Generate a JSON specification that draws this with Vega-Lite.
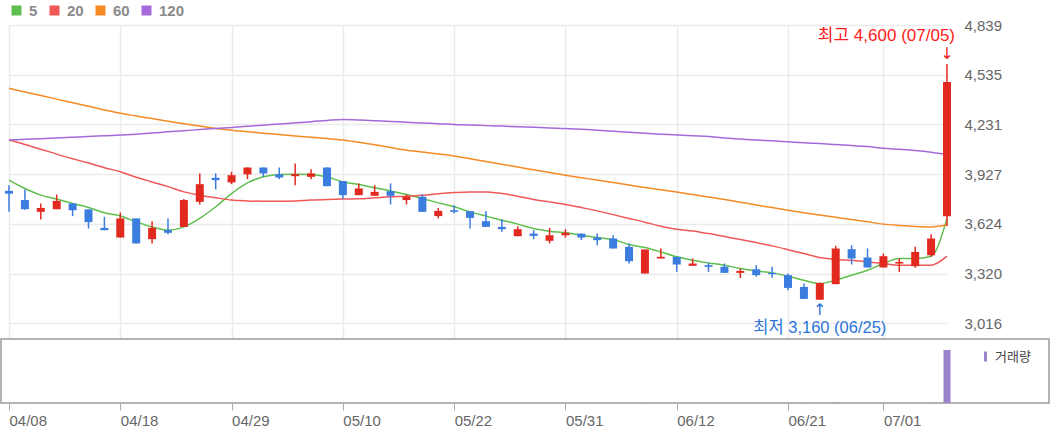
{
  "$schema": "https://vega.github.io/schema/vega-lite/v6.json",
  "background": "white",
  "padding": {"left": 0, "top": 3, "right": 0, "bottom": 0},
  "autosize": {"type": "pad"},
  "config": {
    "font": "Liberation Sans, Noto Sans CJK KR",
    "axis": {"labelFont": "Liberation Sans, Noto Sans CJK KR"},
    "legend": {"labelFont": "Liberation Sans, Noto Sans CJK KR", "padding": 0}
  },
  "datasets": {
    "k": [
      {"d": "04/08", "o": 3825, "h": 3860, "l": 3697, "c": 3808, "m5": 3891, "m20": 4136, "m60": 4452, "m120": 4136, "vol": 41000},
      {"d": "04/09", "o": 3769, "h": 3834, "l": 3710, "c": 3713, "m5": 3840, "m20": 4109, "m60": 4430, "m120": 4140, "vol": 38000},
      {"d": "04/11", "o": 3697, "h": 3748, "l": 3650, "c": 3721, "m5": 3799, "m20": 4080, "m60": 4408, "m120": 4144, "vol": 35000},
      {"d": "04/12", "o": 3713, "h": 3803, "l": 3713, "c": 3764, "m5": 3775, "m20": 4050, "m60": 4386, "m120": 4149, "vol": 40000},
      {"d": "04/15", "o": 3748, "h": 3750, "l": 3671, "c": 3707, "m5": 3748, "m20": 4022, "m60": 4364, "m120": 4153, "vol": 33000},
      {"d": "04/16", "o": 3712, "h": 3712, "l": 3595, "c": 3634, "m5": 3724, "m20": 3995, "m60": 4342, "m120": 4157, "vol": 45000},
      {"d": "04/17", "o": 3599, "h": 3667, "l": 3585, "c": 3585, "m5": 3691, "m20": 3967, "m60": 4320, "m120": 4162, "vol": 36000},
      {"d": "04/18", "o": 3540, "h": 3693, "l": 3540, "c": 3657, "m5": 3672, "m20": 3942, "m60": 4299, "m120": 4166, "vol": 52000},
      {"d": "04/19", "o": 3657, "h": 3657, "l": 3504, "c": 3504, "m5": 3636, "m20": 3909, "m60": 4283, "m120": 4172, "vol": 58000},
      {"d": "04/22", "o": 3530, "h": 3640, "l": 3504, "c": 3599, "m5": 3605, "m20": 3880, "m60": 4267, "m120": 4179, "vol": 39000},
      {"d": "04/23", "o": 3585, "h": 3657, "l": 3560, "c": 3569, "m5": 3585, "m20": 3851, "m60": 4251, "m120": 4186, "vol": 30000},
      {"d": "04/24", "o": 3605, "h": 3775, "l": 3605, "c": 3769, "m5": 3605, "m20": 3819, "m60": 4236, "m120": 4193, "vol": 74000},
      {"d": "04/25", "o": 3758, "h": 3932, "l": 3742, "c": 3866, "m5": 3657, "m20": 3799, "m60": 4221, "m120": 4200, "vol": 90000},
      {"d": "04/26", "o": 3905, "h": 3932, "l": 3834, "c": 3891, "m5": 3728, "m20": 3783, "m60": 4207, "m120": 4207, "vol": 48000},
      {"d": "04/29", "o": 3877, "h": 3942, "l": 3866, "c": 3921, "m5": 3809, "m20": 3769, "m60": 4196, "m120": 4213, "vol": 42000},
      {"d": "04/30", "o": 3926, "h": 3968, "l": 3897, "c": 3968, "m5": 3874, "m20": 3764, "m60": 4187, "m120": 4220, "vol": 47000},
      {"d": "05/02", "o": 3968, "h": 3968, "l": 3911, "c": 3932, "m5": 3911, "m20": 3762, "m60": 4178, "m120": 4227, "vol": 37000},
      {"d": "05/03", "o": 3926, "h": 3968, "l": 3897, "c": 3907, "m5": 3926, "m20": 3762, "m60": 4170, "m120": 4234, "vol": 31000},
      {"d": "05/07", "o": 3915, "h": 3993, "l": 3860, "c": 3927, "m5": 3927, "m20": 3764, "m60": 4161, "m120": 4241, "vol": 44000},
      {"d": "05/08", "o": 3911, "h": 3958, "l": 3897, "c": 3932, "m5": 3926, "m20": 3769, "m60": 4153, "m120": 4248, "vol": 29000},
      {"d": "05/09", "o": 3968, "h": 3968, "l": 3854, "c": 3854, "m5": 3911, "m20": 3772, "m60": 4145, "m120": 4256, "vol": 46000},
      {"d": "05/10", "o": 3885, "h": 3885, "l": 3775, "c": 3799, "m5": 3880, "m20": 3775, "m60": 4136, "m120": 4262, "vol": 43000},
      {"d": "05/13", "o": 3799, "h": 3871, "l": 3799, "c": 3840, "m5": 3864, "m20": 3777, "m60": 4122, "m120": 4258, "vol": 32000},
      {"d": "05/14", "o": 3795, "h": 3860, "l": 3795, "c": 3819, "m5": 3844, "m20": 3783, "m60": 4107, "m120": 4254, "vol": 28000},
      {"d": "05/16", "o": 3823, "h": 3871, "l": 3742, "c": 3795, "m5": 3825, "m20": 3789, "m60": 4090, "m120": 4249, "vol": 39000},
      {"d": "05/17", "o": 3769, "h": 3803, "l": 3742, "c": 3789, "m5": 3803, "m20": 3793, "m60": 4074, "m120": 4245, "vol": 27000},
      {"d": "05/20", "o": 3789, "h": 3803, "l": 3697, "c": 3697, "m5": 3779, "m20": 3799, "m60": 4063, "m120": 4240, "vol": 41000},
      {"d": "05/21", "o": 3671, "h": 3721, "l": 3657, "c": 3703, "m5": 3752, "m20": 3808, "m60": 4051, "m120": 4236, "vol": 30000},
      {"d": "05/22", "o": 3707, "h": 3738, "l": 3687, "c": 3697, "m5": 3728, "m20": 3815, "m60": 4039, "m120": 4231, "vol": 26000},
      {"d": "05/23", "o": 3701, "h": 3701, "l": 3595, "c": 3660, "m5": 3697, "m20": 3819, "m60": 4022, "m120": 4228, "vol": 38000},
      {"d": "05/24", "o": 3640, "h": 3701, "l": 3605, "c": 3605, "m5": 3671, "m20": 3819, "m60": 4005, "m120": 4224, "vol": 35000},
      {"d": "05/27", "o": 3605, "h": 3652, "l": 3575, "c": 3591, "m5": 3646, "m20": 3809, "m60": 3988, "m120": 4221, "vol": 29000},
      {"d": "05/28", "o": 3548, "h": 3609, "l": 3548, "c": 3591, "m5": 3622, "m20": 3793, "m60": 3971, "m120": 4217, "vol": 27000},
      {"d": "05/29", "o": 3564, "h": 3585, "l": 3530, "c": 3550, "m5": 3595, "m20": 3773, "m60": 3954, "m120": 4214, "vol": 24000},
      {"d": "05/30", "o": 3520, "h": 3599, "l": 3504, "c": 3554, "m5": 3579, "m20": 3758, "m60": 3937, "m120": 4210, "vol": 33000},
      {"d": "05/31", "o": 3554, "h": 3591, "l": 3540, "c": 3569, "m5": 3569, "m20": 3742, "m60": 3921, "m120": 4207, "vol": 22000},
      {"d": "06/03", "o": 3564, "h": 3564, "l": 3524, "c": 3540, "m5": 3554, "m20": 3723, "m60": 3906, "m120": 4202, "vol": 25000},
      {"d": "06/04", "o": 3540, "h": 3564, "l": 3493, "c": 3524, "m5": 3540, "m20": 3703, "m60": 3891, "m120": 4196, "vol": 28000},
      {"d": "06/05", "o": 3534, "h": 3554, "l": 3473, "c": 3473, "m5": 3528, "m20": 3680, "m60": 3876, "m120": 4190, "vol": 34000},
      {"d": "06/07", "o": 3483, "h": 3504, "l": 3381, "c": 3395, "m5": 3497, "m20": 3657, "m60": 3861, "m120": 4184, "vol": 47000},
      {"d": "06/10", "o": 3320, "h": 3467, "l": 3320, "c": 3467, "m5": 3479, "m20": 3634, "m60": 3846, "m120": 4178, "vol": 55000},
      {"d": "06/11", "o": 3412, "h": 3473, "l": 3412, "c": 3422, "m5": 3452, "m20": 3609, "m60": 3832, "m120": 4172, "vol": 26000},
      {"d": "06/12", "o": 3422, "h": 3422, "l": 3330, "c": 3375, "m5": 3422, "m20": 3590, "m60": 3818, "m120": 4167, "vol": 31000},
      {"d": "06/13", "o": 3367, "h": 3412, "l": 3367, "c": 3381, "m5": 3401, "m20": 3580, "m60": 3803, "m120": 4162, "vol": 23000},
      {"d": "06/14", "o": 3371, "h": 3385, "l": 3330, "c": 3361, "m5": 3385, "m20": 3564, "m60": 3788, "m120": 4158, "vol": 21000},
      {"d": "06/17", "o": 3361, "h": 3381, "l": 3324, "c": 3324, "m5": 3371, "m20": 3546, "m60": 3772, "m120": 4148, "vol": 27000},
      {"d": "06/18", "o": 3324, "h": 3351, "l": 3293, "c": 3336, "m5": 3351, "m20": 3528, "m60": 3756, "m120": 4142, "vol": 20000},
      {"d": "06/19", "o": 3346, "h": 3371, "l": 3300, "c": 3310, "m5": 3336, "m20": 3509, "m60": 3739, "m120": 4136, "vol": 24000},
      {"d": "06/20", "o": 3324, "h": 3361, "l": 3295, "c": 3316, "m5": 3324, "m20": 3489, "m60": 3723, "m120": 4131, "vol": 19000},
      {"d": "06/21", "o": 3310, "h": 3320, "l": 3218, "c": 3232, "m5": 3304, "m20": 3466, "m60": 3707, "m120": 4125, "vol": 43000},
      {"d": "06/24", "o": 3238, "h": 3259, "l": 3165, "c": 3165, "m5": 3279, "m20": 3442, "m60": 3692, "m120": 4119, "vol": 52000},
      {"d": "06/25", "o": 3160, "h": 3265, "l": 3160, "c": 3262, "m5": 3259, "m20": 3418, "m60": 3678, "m120": 4114, "vol": 49000},
      {"d": "06/26", "o": 3255, "h": 3489, "l": 3255, "c": 3473, "m5": 3279, "m20": 3406, "m60": 3664, "m120": 4108, "vol": 96000},
      {"d": "06/27", "o": 3469, "h": 3493, "l": 3375, "c": 3412, "m5": 3310, "m20": 3401, "m60": 3650, "m120": 4102, "vol": 51000},
      {"d": "06/28", "o": 3418, "h": 3473, "l": 3357, "c": 3357, "m5": 3340, "m20": 3391, "m60": 3636, "m120": 4096, "vol": 37000},
      {"d": "07/01", "o": 3357, "h": 3442, "l": 3357, "c": 3426, "m5": 3381, "m20": 3381, "m60": 3622, "m120": 4085, "vol": 40000},
      {"d": "07/02", "o": 3381, "h": 3412, "l": 3330, "c": 3391, "m5": 3412, "m20": 3371, "m60": 3614, "m120": 4079, "vol": 29000},
      {"d": "07/03", "o": 3365, "h": 3483, "l": 3355, "c": 3452, "m5": 3412, "m20": 3371, "m60": 3608, "m120": 4072, "vol": 48000},
      {"d": "07/04", "o": 3432, "h": 3560, "l": 3422, "c": 3534, "m5": 3426, "m20": 3371, "m60": 3605, "m120": 4062, "vol": 66000},
      {"d": "07/05", "o": 3670, "h": 4600, "l": 3610, "c": 4490, "m5": 3657, "m20": 3426, "m60": 3616, "m120": 4048, "vol": 21000000}
    ],
    "hi": [{"d": "07/05", "p": 4600, "t": "최고 4,600 (07/05)", "a": "↓"}],
    "lo": [{"d": "06/25", "p": 3160, "t": "최저 3,160 (06/25)", "a": "↑"}]
  },
  "spacing": 0,
  "resolve": {"scale": {"x": "independent", "color": "independent"}, "legend": {"color": "independent"}},
  "vconcat": [
    {
      "width": 954,
      "height": 313,
      "view": {"stroke": null},
      "layer": [
        {
          "data": {"name": "k"},
          "transform": [{"fold": ["m5", "m20", "m60", "m120"], "as": ["ma", "v"]}],
          "mark": {"type": "line", "strokeWidth": 1.5, "interpolate": "monotone"},
          "encoding": {
            "x": {
              "field": "d", "type": "ordinal",
              "scale": {"type": "point", "range": [8, 946], "padding": 0},
              "axis": {"values": ["04/08", "04/18", "04/29", "05/10", "05/22", "05/31", "06/12", "06/21", "07/01"], "labels": false, "ticks": false, "domain": false, "grid": true, "gridColor": "#ebebeb", "gridWidth": 1.5, "title": null}
            },
            "y": {
              "field": "v", "type": "quantitative",
              "scale": {"domain": [2926, 4839], "nice": false, "zero": false},
              "axis": {"orient": "right", "values": [3016, 3320, 3624, 3927, 4231, 4535, 4839], "labelExpr": "format(datum.value, ',')", "domain": false, "ticks": false, "labelPadding": 9, "labelColor": "#666666", "labelFontSize": 15, "grid": true, "gridColor": "#ebebeb", "gridWidth": 1.5, "title": null}
            },
            "color": {
              "field": "ma", "type": "nominal",
              "scale": {"domain": ["m5", "m20", "m60", "m120"], "range": ["#5fbf4e", "#f05858", "#f58a25", "#a56ad8"]},
              "legend": {"title": null, "orient": "none", "legendX": 8, "legendY": -22, "direction": "horizontal", "symbolType": "square", "symbolSize": 25, "symbolStrokeWidth": 5, "labelFontSize": 15, "labelFontWeight": "bold", "labelColor": "#8a8a8a", "columnPadding": 4, "labelOffset": 5, "labelExpr": "slice(datum.label, 1)"}
            }
          }
        },
        {
          "data": {"name": "k"},
          "mark": {"type": "rule", "strokeWidth": 1.5},
          "encoding": {
            "x": {"field": "d", "type": "ordinal"},
            "y": {"field": "l", "type": "quantitative"},
            "y2": {"field": "h"},
            "color": {"condition": {"test": "datum.c >= datum.o", "value": "#e2291f"}, "value": "#3a7ddf"}
          }
        },
        {
          "data": {"name": "k"},
          "mark": {"type": "bar", "size": 8},
          "encoding": {
            "x": {"field": "d", "type": "ordinal"},
            "y": {"field": "o", "type": "quantitative"},
            "y2": {"field": "c"},
            "color": {"condition": {"test": "datum.c >= datum.o", "value": "#e2291f"}, "value": "#3a7ddf"}
          }
        },
        {
          "data": {"name": "hi"},
          "mark": {"type": "text", "align": "right", "baseline": "middle", "dx": 8, "dy": -28, "fontSize": 17, "color": "#ff2020"},
          "encoding": {"x": {"field": "d", "type": "ordinal"}, "y": {"field": "p", "type": "quantitative"}, "text": {"field": "t"}}
        },
        {
          "data": {"name": "hi"},
          "mark": {"type": "text", "align": "center", "baseline": "middle", "dy": -10, "fontSize": 16, "font": "DejaVu Sans", "color": "#e8281e"},
          "encoding": {"x": {"field": "d", "type": "ordinal"}, "y": {"field": "p", "type": "quantitative"}, "text": {"field": "a"}}
        },
        {
          "data": {"name": "lo"},
          "mark": {"type": "text", "align": "center", "baseline": "middle", "dy": 28, "fontSize": 16.5, "color": "#2a74d8"},
          "encoding": {"x": {"field": "d", "type": "ordinal"}, "y": {"field": "p", "type": "quantitative"}, "text": {"field": "t"}}
        },
        {
          "data": {"name": "lo"},
          "mark": {"type": "text", "align": "center", "baseline": "middle", "dy": 10, "fontSize": 16, "font": "DejaVu Sans", "color": "#2a74d8"},
          "encoding": {"x": {"field": "d", "type": "ordinal"}, "y": {"field": "p", "type": "quantitative"}, "text": {"field": "a"}}
        }
      ]
    },
    {
      "width": 1048,
      "height": 64,
      "view": {"stroke": "#9a9a9a", "strokeWidth": 1.5},
      "data": {"name": "k"},
      "mark": {"type": "bar", "size": 7},
      "encoding": {
        "x": {
          "field": "d", "type": "ordinal",
          "scale": {"type": "point", "range": [8, 946], "padding": 0},
          "axis": {"values": ["04/08", "04/18", "04/29", "05/10", "05/22", "05/31", "06/12", "06/21", "07/01"], "domain": false, "grid": false, "ticks": true, "tickSize": 7, "tickColor": "#aaaaaa", "tickWidth": 1, "labelAngle": 0, "labelAlign": "left", "labelBaseline": "top", "labelPadding": 3, "labelFontSize": 15, "labelColor": "#666666", "labelOverlap": false, "title": null}
        },
        "y": {"field": "vol", "type": "quantitative", "scale": {"domain": [0, 25360000], "nice": false}, "axis": null},
        "color": {
          "datum": "거래량", "type": "nominal",
          "scale": {"range": ["#9a85cc"]},
          "legend": {"title": null, "orient": "none", "legendX": 978, "legendY": 11, "symbolType": "M-0.3,-1H0.3V1H-0.3Z", "symbolSize": 100, "symbolStrokeWidth": 0, "labelFontSize": 13, "labelColor": "#444444", "labelOffset": 3}
        }
      }
    }
  ]
}
